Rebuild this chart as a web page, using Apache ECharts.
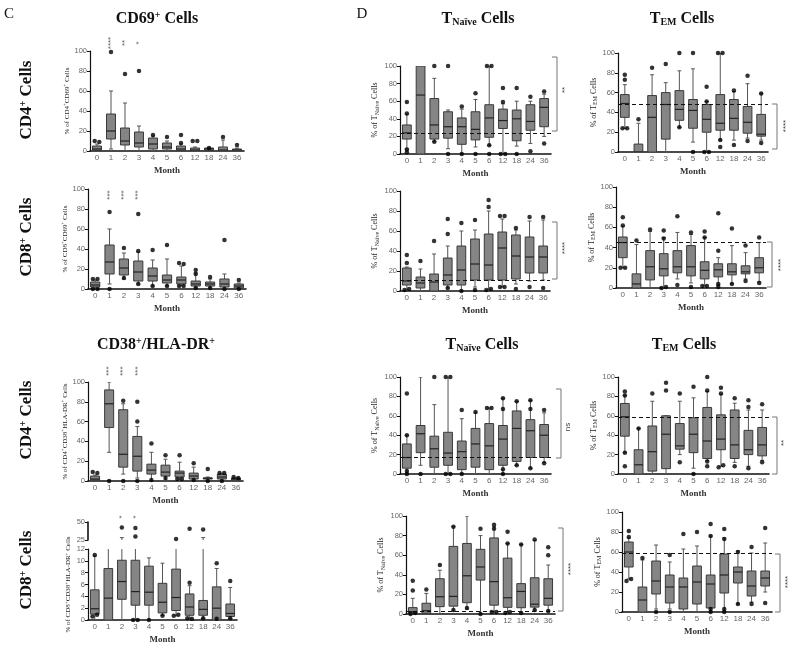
<!DOCTYPE html>
<html>
<head>
<meta charset="utf-8">
<script src="https://cdn.jsdelivr.net/npm/echarts@6/dist/echarts.min.js"></script>
<style>
  html, body { margin: 0; padding: 0; background: #fff; }
  #chart { width: 800px; height: 645px; }
</style>
</head>
<body>
<div id="chart"></div>
<script>
// 月份分类
const months = ['0', '1', '2', '3', '4', '5', '6', '12', '18', '24', '36']

// 每个箱线: [min, q1, median, q3, max]，离群点: [月份序号, 值]
const cd4cd69Box = [[0, 0.5, 2, 5, 7], [2, 12, 20, 37, 60], [0, 6, 10, 23, 48], [0, 4, 8, 19, 25], [0, 2, 7, 13, 15], [0, 2, 4, 8, 10], [0, 0.5, 2, 5, 7], [0, 0, 1, 3, 4], [0, 0.5, 2, 3, 3], [0, 0, 1, 4, 11], [0, 0, 1, 2, 3]]
const cd4cd69Out = [[0, 10], [0, 9], [1, 99], [2, 77], [3, 80], [4, 16], [5, 14], [6, 16], [6, 8], [7, 10], [7, 10], [8, 3], [9, 14], [10, 6]]
const cd4cd69Sig = ['', '****', '**', '*', '', '', '', '', '', '', '']

const cd8cd69Box = [[0, 2, 4, 7, 9], [5, 15, 27, 44, 60], [10, 14, 21, 30, 36], [5, 8, 17, 28, 37], [3, 8, 13, 21, 29], [3, 6, 9, 14, 30], [3, 5, 9, 12, 23], [1, 3, 5, 8, 16], [1, 3, 5, 7, 10], [0, 2, 5, 10, 15], [0, 1, 3, 5, 6]]
const cd8cd69Out = [[0, 10], [0, 10], [0, 0], [0, 0], [1, 77], [1, 0], [2, 41], [2, 11], [3, 75], [3, 38], [3, 5], [4, 39], [4, 3], [5, 44], [5, 3], [6, 26], [6, 25], [6, 3], [6, 3], [7, 19], [7, 15], [7, 1], [8, 12], [8, 1], [9, 49], [9, 0], [10, 9], [10, 0]]
const cd8cd69Sig = ['', '***', '***', '***', '', '', '', '', '', '', '']

const cd4cd38Box = [[0, 1, 2, 5, 6], [29, 54, 78, 92, 100], [7, 14, 27, 72, 78], [3, 10, 25, 45, 55], [0, 7, 11, 17, 29], [1, 5, 9, 16, 22], [1, 4, 8, 10, 19], [0, 2, 5, 8, 14], [0, 2, 3, 3, 4], [0, 2, 4, 7, 7], [0, 1, 2, 3, 3]]
const cd4cd38Out = [[0, 9], [0, 8], [1, 0], [2, 81], [2, 0], [3, 80], [3, 60], [3, 0], [4, 38], [4, 1], [5, 26], [5, 3], [6, 26], [6, 2], [6, 2], [7, 18], [7, 1], [8, 12], [8, 0], [9, 8], [9, 8], [9, 0], [10, 4], [10, 3]]
const cd4cd38Sig = ['', '***', '***', '***', '', '', '', '', '', '', '']

const cd8cd38Box = [[0, 1.0, 1.9, 5.1, 10.8], [0, 0, 3.7, 8.7, 18], [0, 3.5, 6.5, 10.1, 28.3], [0, 2.5, 4.8, 10.1, 22], [0, 2.5, 4.7, 9.1, 10.5], [0.8, 1.2, 3.0, 6.2, 9.6], [0.7, 1.6, 3.8, 8.6, 20], [0.3, 0.8, 2.2, 4.4, 5.8], [0.3, 0.8, 1.8, 3.3, 28.3], [0, 0, 2.0, 5.6, 8.7], [0.3, 0.6, 1.1, 2.7, 5.5]]
const cd8cd38Out = [[0, 11], [0, 0.6], [0, 0.9], [2, 42.5], [3, 41.5], [3, 29.7], [3, 0], [3, 0], [4, 0], [5, 0.7], [6, 26.4], [6, 0.7], [6, 0.9], [7, 6.3], [7, 40.5], [7, 0.3], [7, 0.2], [8, 39.6], [8, 0.3], [9, 9.6], [9, 0.2], [10, 6.6], [10, 0.3]]
const cd8cd38Sig = ['', '', '*', '*', '', '', '', '', '', '', '']

const naive1Box = [[6, 17, 24, 33, 45], [0, 0, 67, 100, 100], [14, 17, 33, 63, 86], [6, 18, 31, 48, 50], [0, 11, 31, 41, 51], [8, 16, 28, 48, 62], [10, 19, 41, 56, 100], [0, 29, 38, 51, 57], [9, 15, 40, 50, 60], [12, 27, 37, 56, 60], [20, 31, 53, 63, 68]]
const naive1Out = [[0, 59], [0, 46], [0, 5], [0, 2], [2, 100], [2, 14], [3, 100], [3, 0], [4, 54], [4, 0], [5, 69], [5, 0], [6, 100], [6, 100], [6, 10], [6, 0], [7, 75], [7, 59], [7, 0], [7, 0], [8, 75], [8, 0], [9, 65], [9, 3], [10, 71], [10, 12]]
const naive1Ref = 24

const em1Box = [[24, 35, 49, 58, 68], [0, 0, 0, 8, 29], [0, 0, 35, 57, 78], [0, 13, 48, 60, 70], [25, 32, 43, 62, 82], [10, 24, 42, 53, 84], [0, 20, 33, 48, 51], [12, 22, 29, 58, 100], [12, 22, 34, 53, 61], [14, 19, 30, 46, 69], [12, 16, 18, 38, 59]]
const em1Out = [[0, 78], [0, 73], [0, 24], [0, 24], [1, 33], [2, 85], [3, 89], [4, 100], [4, 25], [5, 100], [5, 0], [6, 66], [6, 51], [6, 0], [6, 0], [7, 100], [7, 100], [7, 12], [7, 5], [8, 62], [8, 7], [9, 77], [9, 11], [10, 59], [10, 9]]
const em1Ref = 48

const naive2Box = [[1, 6, 10, 23, 24], [0, 3, 8, 14, 22], [0, 0, 9, 17, 37], [3, 6, 16, 33, 45], [0, 6, 21, 45, 60], [4, 11, 27, 52, 61], [1, 11, 26, 57, 80], [4, 11, 43, 59, 72], [7, 12, 35, 56, 61], [10, 18, 34, 54, 70], [11, 18, 34, 45, 71]]
const naive2Out = [[0, 36], [0, 28], [0, 1], [0, 2], [1, 30], [2, 50], [3, 72], [3, 57], [3, 3], [4, 68], [4, 0], [5, 71], [5, 1], [6, 91], [6, 84], [6, 1], [6, 2], [7, 75], [7, 75], [7, 4], [7, 4], [8, 63], [8, 2], [9, 74], [9, 4], [10, 74], [10, 3]]
const naive2Ref = 11

const em2Box = [[20, 30, 45, 50.5, 61], [0, 0, 4, 14, 43], [0, 8, 21, 37, 56], [0, 12, 19, 34, 50], [9, 15, 21, 37, 55], [5, 12, 21, 42, 53], [2, 9, 17.5, 26, 50], [3, 11, 18, 24, 30], [4, 13, 16, 24, 42], [9, 14, 16, 22, 35], [6, 15, 20, 30, 45]]
const em2Out = [[0, 70], [0, 62], [0, 20], [0, 20], [1, 47], [2, 58], [3, 57], [3, 49], [3, 0], [3, 1], [4, 71], [4, 3], [5, 55], [5, 1], [6, 56], [6, 50], [6, 2], [6, 2], [7, 74], [7, 37], [7, 1], [7, 4], [8, 59], [8, 4], [9, 42], [9, 7], [10, 50], [10, 5]]
const em2Ref = 45.5

const naive3Box = [[0, 6, 17, 31, 40], [9, 22, 41.5, 50, 100], [0, 7, 26, 39, 71.5], [0, 9, 21.6, 43, 100], [0, 4.5, 23, 34, 57], [0, 7, 31, 47, 63], [0, 4.5, 29, 52, 68], [0, 9, 36, 50, 78], [9, 13, 47, 65, 75], [6, 17, 44.6, 56, 76], [12, 17, 40, 51, 63]]
const naive3Out = [[0, 83], [0, 40], [0, 0], [0, 3], [1, 0], [2, 100], [3, 100], [3, 100], [3, 0], [3, 0], [4, 66], [4, 0], [5, 64], [6, 68], [6, 68], [7, 78], [7, 67], [7, 5], [7, 0], [8, 75], [8, 9], [9, 76], [9, 67], [9, 6], [10, 66], [10, 11]]
const naive3Ref = 17

const em3Box = [[22, 39, 59, 72.7, 81], [0, 0, 9.5, 25, 47], [0, 3, 23, 49.5, 75], [0, 5.5, 41, 60, 60], [20, 25.6, 29, 52, 75], [6, 22, 41, 58, 78.5], [14, 16, 34, 68.6, 85], [8, 25, 36, 61, 82], [12, 16, 30, 66, 73], [8, 20, 25, 45, 66], [14, 18.7, 30, 48, 66]]
const em3Out = [[0, 85], [0, 81], [0, 22], [0, 8], [1, 47], [2, 83], [3, 94], [3, 86], [4, 83], [4, 12], [5, 90], [5, 0], [6, 100], [6, 86], [6, 13], [6, 8], [7, 89], [7, 83], [7, 7], [7, 9], [8, 78], [8, 8], [9, 76], [9, 69], [9, 6], [10, 72], [10, 12]]
const em3Ref = 59

const naive4Box = [[0, 0.7, 2.4, 6.5, 16], [0, 0.7, 3.4, 11, 21], [0, 7.5, 17.6, 36, 44.7], [3, 8, 18, 69, 89], [5, 11.5, 39, 72, 100], [0, 34.6, 48, 66, 80], [2, 9, 33, 77.6, 89], [1, 6.8, 16.6, 57, 72], [1, 6.4, 23, 31, 71], [3, 7, 10, 37, 75], [3, 9, 16, 36, 50]]
const naive4Out = [[0, 34], [0, 24], [0, 0], [0, 1], [1, 25], [2, 50], [3, 89], [3, 4], [4, 6], [5, 87], [5, 0], [6, 91], [6, 87], [6, 2], [6, 2], [7, 84], [7, 72], [7, 1], [7, 2], [8, 71], [8, 1], [9, 76], [9, 4], [10, 68], [10, 60], [10, 3]]
const naive4Ref = 3

const em4Box = [[33, 45, 60, 70, 74], [0, 0, 12, 25, 52], [3, 18, 31, 51, 67], [3, 9, 25, 37, 50], [0, 3, 25, 34, 63], [0, 8, 30, 46, 66], [0, 4, 28, 37, 76], [0, 19, 37, 58, 74], [8, 29, 40, 45, 61], [10, 16, 26, 41, 59], [20, 26, 34, 41, 69]]
const em4Out = [[0, 81], [0, 75], [0, 31], [0, 33], [1, 54], [2, 0], [3, 57], [3, 0], [4, 78], [5, 80], [6, 88], [6, 76], [6, 0], [6, 3], [7, 83], [7, 73], [7, 0], [7, 3], [8, 60], [8, 8], [9, 65], [9, 8], [10, 84], [10, 9]]
const em4Ref = 59

const SERIF = '"Liberation Serif", "DejaVu Serif", serif'
const SANS = '"Liberation Sans", Arial, sans-serif'
const nameRich = {
  sup: { fontSize: 5, fontFamily: SERIF, color: '#222', padding: [0, 0, 4, 0] },
  sub: { fontSize: 6, fontFamily: SERIF, color: '#222', padding: [4, 0, 0, 0] }
}

// 面板布局（网格位置与坐标轴）
const panels = [
  { box: cd4cd69Box, out: cd4cd69Out, sig: cd4cd69Sig, sigY: 108, grid: { left: 90, top: 51, width: 154, height: 100 }, yName: '% of CD4{sup|+}CD69{sup|+} Cells', yGap: 17, yFont: 7 },
  { box: cd8cd69Box, out: cd8cd69Out, sig: cd8cd69Sig, sigY: 94, grid: { left: 88, top: 189, width: 158, height: 100 }, yName: '% of CD8{sup|+}CD69{sup|+} Cells', yGap: 16, yFont: 7 },
  { box: cd4cd38Box, out: cd4cd38Out, sig: cd4cd38Sig, sigY: 111, grid: { left: 88, top: 382, width: 155, height: 99 }, yName: '% of CD4{sup|+}CD38{sup|+}HLA-DR{sup|+} Cells', yGap: 16, yFont: 7 },
  { box: cd8cd38Box, out: cd8cd38Out, sig: cd8cd38Sig, sigY: 57, grid: { left: 88, top: 549, width: 149, height: 71 }, upper: { top: 522, height: 18 }, yMax: 12, yStep: 2, yName: '% of CD8{sup|+}CD38{sup|+}HLA-DR{sup|+} Cells', yGap: 15, yFont: 7 },
  { box: naive1Box, out: naive1Out, ref: naive1Ref, grid: { left: 400, top: 66, width: 151, height: 88 }, yName: '% of T{sub|Naïve} Cells', yGap: 20, yFont: 8 },
  { box: em1Box, out: em1Out, ref: em1Ref, grid: { left: 618, top: 53, width: 150, height: 99 }, yName: '% of T{sub|EM} Cells', yGap: 18, yFont: 8 },
  { box: naive2Box, out: naive2Out, ref: naive2Ref, grid: { left: 400, top: 191, width: 150, height: 100 }, yName: '% of T{sub|Naïve} Cells', yGap: 20, yFont: 8 },
  { box: em2Box, out: em2Out, ref: em2Ref, grid: { left: 616, top: 187, width: 150, height: 101 }, yName: '% of T{sub|EM} Cells', yGap: 18, yFont: 8 },
  { box: naive3Box, out: naive3Out, ref: naive3Ref, grid: { left: 400, top: 377, width: 151, height: 97 }, yName: '% of T{sub|Naïve} Cells', yGap: 20, yFont: 8 },
  { box: em3Box, out: em3Out, ref: em3Ref, grid: { left: 618, top: 377, width: 151, height: 97 }, yName: '% of T{sub|EM} Cells', yGap: 18, yFont: 8 },
  { box: naive4Box, out: naive4Out, ref: naive4Ref, grid: { left: 406, top: 516, width: 149, height: 98 }, yName: '% of T{sub|Naïve} Cells', yGap: 20, yFont: 8 },
  { box: em4Box, out: em4Out, ref: em4Ref, grid: { left: 622, top: 512, width: 150, height: 100 }, yName: '% of T{sub|EM} Cells', yGap: 18, yFont: 8 }
]

/**
 * 自定义箱线图绘制（支持裁剪，用于断轴面板）
 */
function renderBox(params, api) {
  const i = api.value(0)
  const pMin = api.coord([i, api.value(1)])
  const pQ1 = api.coord([i, api.value(2)])
  const pMed = api.coord([i, api.value(3)])
  const pQ3 = api.coord([i, api.value(4)])
  const pMax = api.coord([i, api.value(5)])
  const bw = api.size([1, 0])[0] * 0.64
  const cw = bw * 0.45
  const x = pMin[0]
  const ln = { stroke: '#555', lineWidth: 1 }
  return {
    type: 'group',
    children: [
      { type: 'line', shape: { x1: x, y1: pMax[1], x2: x, y2: pMin[1] }, style: ln },
      { type: 'line', shape: { x1: x - cw / 2, y1: pMax[1], x2: x + cw / 2, y2: pMax[1] }, style: ln },
      { type: 'line', shape: { x1: x - cw / 2, y1: pMin[1], x2: x + cw / 2, y2: pMin[1] }, style: ln },
      { type: 'rect', shape: { x: x - bw / 2, y: pQ3[1], width: bw, height: pQ1[1] - pQ3[1] }, style: { fill: '#858585', stroke: '#3a3a3a', lineWidth: 1 } },
      { type: 'line', shape: { x1: x - bw / 2, y1: pMed[1], x2: x + bw / 2, y2: pMed[1] }, style: { stroke: '#222', lineWidth: 1.2 } }
    ]
  }
}

// 离群点：同一月份中数值相近的点左右错开
function outlierData(out) {
  return out.map((p, k) => {
    const twin = out.findIndex((q, j) => j !== k && q[0] === p[0] && Math.abs(q[1] - p[1]) < 2.5)
    const dx = twin < 0 ? 0 : (twin > k ? -2.3 : 2.3)
    return { value: p, symbolOffset: [dx, 0] }
  })
}

const grids = []
const xAxes = []
const yAxes = []
const series = []

function addAxes(gi, grid, showX, yOpt) {
  grids.push(grid)
  xAxes.push({
    gridIndex: gi, type: 'category', data: months, show: showX,
    axisLine: { lineStyle: { color: '#111', width: 1.6 } },
    axisTick: { alignWithLabel: true, length: 3, lineStyle: { color: '#111' } },
    axisLabel: { fontSize: 8, color: '#666', margin: 3, interval: 0, fontFamily: SANS },
    name: 'Month', nameLocation: 'middle', nameGap: 15,
    nameTextStyle: { fontSize: 9, fontFamily: SERIF, fontWeight: 'bold', color: '#333' }
  })
  yAxes.push(Object.assign({
    gridIndex: gi, type: 'value',
    axisLine: { show: true, lineStyle: { color: '#111', width: 1.2 } },
    axisTick: { show: true, length: 3, lineStyle: { color: '#111' } },
    axisLabel: { fontSize: 7.5, color: '#666', margin: 3, fontFamily: SANS },
    splitLine: { show: false },
    nameLocation: 'middle'
  }, yOpt))
}

function addSeries(gi, p, withRef) {
  const s = {
    type: 'custom', xAxisIndex: gi, yAxisIndex: gi, clip: true,
    renderItem: renderBox,
    data: p.box.map((b, i) => [i].concat(b)),
    z: 2
  }
  if (withRef && p.ref != null) {
    s.markLine = {
      silent: true, symbol: 'none', label: { show: false },
      lineStyle: { color: '#111', type: [4, 3], width: 1.2 },
      data: [{ yAxis: p.ref }]
    }
  }
  series.push(s)
  series.push({
    type: 'scatter', xAxisIndex: gi, yAxisIndex: gi, clip: true,
    symbol: 'circle', symbolSize: 4.5, itemStyle: { color: '#000' },
    data: outlierData(p.out), z: 3
  })
}

// 显著性星号（竖排）
function addSig(gi, p) {
  series.push({
    type: 'scatter', xAxisIndex: gi, yAxisIndex: gi, clip: false,
    symbolSize: 1, itemStyle: { color: 'rgba(0,0,0,0)' },
    label: { show: true, position: 'inside', rotate: 90, formatter: d => d.data.s, fontSize: 8, color: '#333', fontFamily: SANS },
    data: p.sig.map((s, i) => ({ value: [i, p.sigY], s })).filter(d => d.s),
    z: 4
  })
}

panels.forEach(p => {
  const gi = grids.length
  const yName = { name: p.yName, nameGap: p.yGap, nameTextStyle: { fontSize: p.yFont, fontFamily: SERIF, color: '#222', rich: nameRich } }
  addAxes(gi, p.grid, true, Object.assign({ min: 0, max: p.yMax || 100, interval: p.yStep || 20 }, yName))
  addSeries(gi, p, true)
  if (p.upper) {
    // 断轴上半部分 25-50
    const gu = grids.length
    addAxes(gu, { left: p.grid.left, width: p.grid.width, top: p.upper.top, height: p.upper.height }, false, { min: 25, max: 50, interval: 25, axisLine: { show: true, lineStyle: { color: '#111', width: 1.6 } } })
    addSeries(gu, p, false)
    addSig(gu, p)
  } else if (p.sig) {
    addSig(gi, p)
  }
})

// 标题与注释
const bigRich = {
  sup: { fontSize: 10, fontWeight: 'bold', fontFamily: SERIF, padding: [0, 0, 7, 0] },
  sub: { fontSize: 10, fontWeight: 'bold', fontFamily: SERIF, padding: [7, 0, 0, 0] }
}
function label(text, x, y, size, bold, rot) {
  return {
    type: 'text', x, y, rotation: rot || 0, silent: true,
    style: {
      text, fontSize: size, fontWeight: bold ? 'bold' : 'normal', fontFamily: SERIF, fill: '#111',
      align: 'center', verticalAlign: 'middle', textAlign: 'center', textVerticalAlign: 'middle', rich: bigRich
    }
  }
}
function bracket(x, y1, y2, text, tx, ty) {
  return [
    { type: 'polyline', silent: true, shape: { points: [[x - 5, y1], [x, y1], [x, y2], [x - 5, y2]] }, style: { stroke: '#777', lineWidth: 1, fill: null } },
    { type: 'text', x: tx, y: ty, rotation: Math.PI / 2, silent: true, style: { text, fontSize: 8, fill: '#444', fontFamily: SANS, align: 'center', verticalAlign: 'middle', textAlign: 'center', textVerticalAlign: 'middle' } }
  ]
}

const graphics = [
  label('C', 9, 14, 15, false),
  label('D', 362, 14, 15, false),
  label('CD69{sup|+} Cells', 157, 19, 16, true),
  label('T{sub|Naïve} Cells', 478, 19, 16, true),
  label('T{sub|EM} Cells', 682, 19, 16, true),
  label('CD38{sup|+}/HLA-DR{sup|+}', 156, 345, 16, true),
  label('T{sub|Naïve} Cells', 482, 345, 16, true),
  label('T{sub|EM} Cells', 684, 345, 16, true),
  label('CD4{sup|+} Cells', 27, 100, 17, true, Math.PI / 2),
  label('CD8{sup|+} Cells', 27, 237, 17, true, Math.PI / 2),
  label('CD4{sup|+} Cells', 27, 420, 17, true, Math.PI / 2),
  label('CD8{sup|+} Cells', 27, 570, 17, true, Math.PI / 2)
].concat(
  bracket(557, 57, 131, '**', 565, 90),
  bracket(777, 104, 149, '****', 786, 126),
  bracket(557, 222, 279, '****', 565, 248),
  bracket(772, 242, 287, '****', 781, 265),
  bracket(561, 389, 458, 'ns', 568, 427),
  bracket(777, 417, 474, '**', 784, 443),
  bracket(563, 528, 611, '****', 571, 569),
  bracket(780, 554, 612, '****', 788, 582)
)

const chart = echarts.init(document.getElementById('chart'))
chart.setOption({
  animation: false,
  backgroundColor: '#fff',
  grid: grids,
  xAxis: xAxes,
  yAxis: yAxes,
  series,
  graphic: graphics
})
</script>
</body>
</html>
